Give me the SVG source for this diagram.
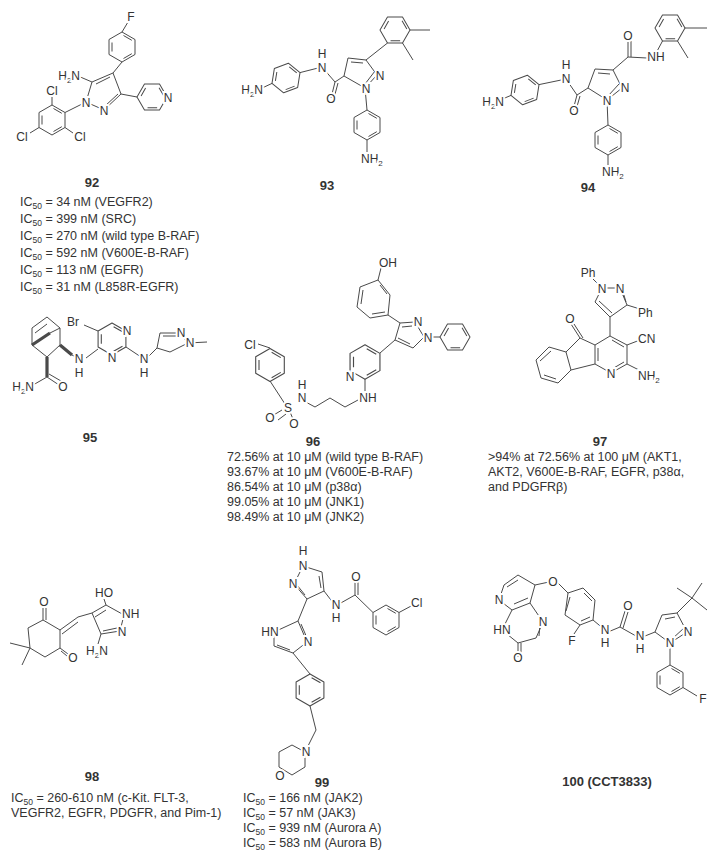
<svg xmlns="http://www.w3.org/2000/svg" xmlns:xlink="http://www.w3.org/1999/xlink" width="727" height="860" viewBox="0 0 727 860">
<defs>
<style>
.b{stroke:#4a4a4a;stroke-width:1;fill:none;stroke-linejoin:round}
.w{stroke:#4a4a4a;stroke-width:3.2;fill:none}
text{font-family:"Liberation Sans",Arial,sans-serif;fill:#333}
.at{font-size:12px;text-anchor:middle;stroke:#fff;stroke-width:4;paint-order:stroke}
.ae{font-size:12px;text-anchor:end;stroke:#fff;stroke-width:4;paint-order:stroke}
.as{font-size:12px;text-anchor:start;stroke:#fff;stroke-width:4;paint-order:stroke}
.lb{font-size:13px;font-weight:bold;text-anchor:middle}
.tx{font-size:12.5px}
</style>
<path id="ar" d="M0,-15L13,-7.5L13,7.5L0,15L-13,7.5L-13,-7.5Z M1.5,-11.5L9.8,-6.7 M9.8,6.7L1.5,11.5 M-10,4.5L-10,-4.5"/>
</defs>
<rect width="727" height="860" fill="#fff"/>

<g id="c92">
<use href="#ar" class="b" transform="translate(122,47)"/>
<path class="b" d="M122,32L128,22 M122,62L113,73 M113,73L121,94L104,110L86,102L92,82Z M110,77L96,84 M118,94L105,106 M92,82L78,76 M121,94L137,97 M86,102L65,112.5 M52,105L52,97 M65,127.5L73,133 M39,127.5L30,133"/>
<use href="#ar" class="b" transform="translate(152,97) rotate(30)"/>
<use href="#ar" class="b" transform="translate(52,120)"/>
<text class="at" x="131" y="21">F</text>
<text class="ae" x="80" y="80">H<tspan font-size="8" dy="3">2</tspan><tspan dy="-3">N</tspan></text>
<text class="at" x="104" y="115">N</text>
<text class="at" x="86" y="107">N</text>
<text class="at" x="168" y="102">N</text>
<text class="at" x="52" y="95">Cl</text>
<text class="at" x="80" y="141">Cl</text>
<text class="at" x="22" y="141">Cl</text>
<text class="lb" x="92" y="187">92</text>
<text class="tx" x="20" y="206">IC<tspan font-size="8.5" dy="3">50</tspan><tspan dy="-3"> = 34 nM (VEGFR2)</tspan></text>
<text class="tx" x="20" y="223">IC<tspan font-size="8.5" dy="3">50</tspan><tspan dy="-3"> = 399 nM (SRC)</tspan></text>
<text class="tx" x="20" y="240">IC<tspan font-size="8.5" dy="3">50</tspan><tspan dy="-3"> = 270 nM (wild type B-RAF)</tspan></text>
<text class="tx" x="20" y="257">IC<tspan font-size="8.5" dy="3">50</tspan><tspan dy="-3"> = 592 nM (V600E-B-RAF)</tspan></text>
<text class="tx" x="20" y="274">IC<tspan font-size="8.5" dy="3">50</tspan><tspan dy="-3"> = 113 nM (EGFR)</tspan></text>
<text class="tx" x="20" y="291">IC<tspan font-size="8.5" dy="3">50</tspan><tspan dy="-3"> = 31 nM (L858R-EGFR)</tspan></text>
</g>

<g id="c93">
<use href="#ar" class="b" transform="translate(286,78) rotate(9)"/>
<use href="#ar" class="b" transform="translate(367,125)"/>
<use href="#ar" class="b" transform="translate(395,30) rotate(30)"/>
<path class="b" d="M272,83.4L260,89 M300,72.6L322,67 M322,67L335,82 M335,82L331,98 M338,83L334,98 M335,82L344,76 M344,76L348,58L366,60L377,75L365,88Z M351,62L363,63 M375,71L365,84 M365,88L367,110 M367,140L367,152 M366,60L387.5,43 M402.5,43L413,60 M410,30L430,30"/>
<text class="ae" x="263" y="94">H<tspan font-size="8" dy="3">2</tspan><tspan dy="-3">N</tspan></text>
<text class="at" x="322" y="72">N</text>
<text class="at" x="322" y="58">H</text>
<text class="at" x="331" y="103">O</text>
<text class="at" x="380" y="80">N</text>
<text class="at" x="366" y="93">N</text>
<text class="as" x="361" y="163">NH<tspan font-size="8" dy="3">2</tspan></text>
<text class="lb" x="327" y="190">93</text>
</g>

<g id="c94">
<use href="#ar" class="b" transform="translate(525,90) rotate(9)"/>
<use href="#ar" class="b" transform="translate(608,140)"/>
<use href="#ar" class="b" transform="translate(670,28) rotate(30)"/>
<path class="b" d="M511,95.4L500,100 M539,84.6L566,79 M566,79L577,95 M577,95L573,110 M580,96L576,110 M577,95L588,88 M588,88L595,69L613,70L622,88L607,100Z M598,73L610,74 M619,84L608,96 M607,100L608,125 M608,155L608,165 M613,70L628,57 M628,57L628,41 M631,57L631,41 M628,57L647,58 M655,55L662.5,41 M677.5,41L688,58 M685,28L707,28"/>
<text class="ae" x="504" y="106">H<tspan font-size="8" dy="3">2</tspan><tspan dy="-3">N</tspan></text>
<text class="at" x="566" y="83">N</text>
<text class="at" x="566" y="69">H</text>
<text class="at" x="574" y="115">O</text>
<text class="at" x="625" y="92">N</text>
<text class="at" x="607" y="105">N</text>
<text class="at" x="628" y="40">O</text>
<text class="at" x="656" y="61">NH</text>
<text class="as" x="602" y="176">NH<tspan font-size="8" dy="3">2</tspan></text>
<text class="lb" x="588" y="192">94</text>
</g>

<g id="c95">
<path class="b" d="M32,328L47,317L60,328L60,345L47,357L32,345Z M35,333L47,324 M50,333L60,328"/>
<path class="w" d="M32,345L50,333 M60,345L72,355 M47,357L47,377"/>
<use href="#ar" class="b" transform="translate(112,339) scale(1.07)"/>
<path class="b" d="M72,355L80,359 M98,349L86,358 M98,331L84,325 M126,347L141,357 M148,357L157,348 M157,348L160,333L180,333L188,343L170,352Z M163,336L177,336 M188,343L207,342 M47,377L33,385 M47,377L59,385 M49,374L61,381"/>
<text class="at" x="79" y="363">N</text>
<text class="at" x="79" y="377">H</text>
<text class="at" x="73" y="326">Br</text>
<text class="at" x="127" y="335">N</text>
<text class="at" x="112" y="362">N</text>
<text class="at" x="144" y="363">N</text>
<text class="at" x="144" y="377">H</text>
<text class="at" x="181" y="337">N</text>
<text class="at" x="190" y="347">N</text>
<text class="ae" x="34" y="391">H<tspan font-size="8" dy="3">2</tspan><tspan dy="-3">N</tspan></text>
<text class="at" x="63" y="391">O</text>
<text class="lb" x="90" y="442">95</text>
</g>

<g id="c96">
<use href="#ar" class="b" transform="translate(455,337) rotate(30)"/>
<use href="#ar" class="b" transform="translate(365,362) scale(1.15)"/>
<use href="#ar" class="b" transform="translate(270,365) scale(1.1)"/>
<path class="b" d="M378,280L390,295L388,315L370,318L357,307L360,287Z M380,285L387,294 M385,312L372,314 M361,304L363,290 M378,280L381,268 M388,315L400,323 M400,323L415,322L424,337L413,348L395,340Z M402,327L412,326 M410,344L398,338 M424,337L440,337 M395,340L380,353 M365,379L365,392 M358,400L345,407L330,398L315,407L302,400 M270,348L258,344 M270,381L285,404 M282,410L272,416 M286,414L278,420 M290,412L293,419"/>
<text class="at" x="388" y="267">OH</text>
<text class="at" x="418" y="326">N</text>
<text class="at" x="428" y="342">N</text>
<text class="at" x="350" y="381">N</text>
<text class="at" x="368" y="402">NH</text>
<text class="at" x="250" y="349">Cl</text>
<text class="at" x="288" y="412">S</text>
<text class="at" x="270" y="422">O</text>
<text class="at" x="294" y="428">O</text>
<text class="at" x="302" y="402">N</text>
<text class="at" x="302" y="389">H</text>
<text class="lb" x="313" y="446">96</text>
<text class="tx" x="227" y="461">72.56% at 10 μM (wild type B-RAF)</text>
<text class="tx" x="227" y="476">93.67% at 10 μM  (V600E-B-RAF)</text>
<text class="tx" x="227" y="491">86.54% at 10 μM  (p38α)</text>
<text class="tx" x="227" y="506">99.05% at 10 μM  (JNK1)</text>
<text class="tx" x="227" y="521">98.49% at 10 μM  (JNK2)</text>
</g>

<g id="c97">
<path class="b" d="M610,317L595,302L602,288L620,288L627,305Z M612,313L599,301 M623,292L626,302 M602,288L592,278 M627,305L640,309 M610,317L610,336 M610,336L627,345L627,364L611,373L595,364L595,345Z M612,340L624,347 M624,362L612,369 M598,361L598,348 M627,345L640,340 M627,364L641,371 M595,345L580,338L566,352L571,370L595,364 M580,338L571,324 M583,338L574,324 M566,352L549,347L536,360L541,378L558,383L571,370 M551,351L540,361 M544,375L556,379"/>
<text class="at" x="588" y="277">Ph</text>
<text class="at" x="602" y="293">N</text>
<text class="at" x="620" y="293">N</text>
<text class="as" x="638" y="317">Ph</text>
<text class="as" x="638" y="343">CN</text>
<text class="at" x="611" y="378">N</text>
<text class="as" x="638" y="380">NH<tspan font-size="8" dy="3">2</tspan></text>
<text class="at" x="570" y="323">O</text>
<text class="lb" x="600" y="446">97</text>
<text class="tx" x="488" y="461">&gt;94% at 72.56% at 100 μM (AKT1,</text>
<text class="tx" x="488" y="476">AKT2, V600E-B-RAF, EGFR, p38α,</text>
<text class="tx" x="488" y="491">and PDGFRβ)</text>
</g>

<g id="c98">
<path class="b" d="M43,620L60,630L60,648L45,657L30,648L28,628Z M43,620L43,608 M46,620L46,608 M60,648L68,654 M61,651L67,656 M30,648L10,643 M30,648L22,665 M60,630L78,617 M62,634L78,622 M78,617L92,613 M92,613L106,605L124,615L120,631L101,634Z M95,617L106,610 M117,628L103,631 M106,605L104,599 M101,634L98,644"/>
<text class="at" x="104" y="597">HO</text>
<text class="at" x="44" y="606">O</text>
<text class="at" x="73" y="662">O</text>
<text class="as" x="122" y="618">NH</text>
<text class="at" x="122" y="636">N</text>
<text class="at" x="97" y="655">H<tspan font-size="8" dy="3">2</tspan><tspan dy="-3">N</tspan></text>
<text class="lb" x="92" y="781">98</text>
<text class="tx" x="11" y="802">IC<tspan font-size="8.5" dy="3">50</tspan><tspan dy="-3"> = 260-610 nM (c-Kit. FLT-3,</tspan></text>
<text class="tx" x="11" y="817">VEGFR2, EGFR, PDGFR, and Pim-1)</text>
</g>

<g id="c99">
<path class="b" d="M303,566L322,572L324,591L307,599L294,584Z M319,576L321,588 M305,595L297,585 M324,591L334,604 M339,604L355,595 M355,595L355,582 M358,595L358,582 M355,595L373,612.5 M307,599L298,621 M298,621L307,642L293,653L274,646L274,632Z M301,624L307,638 M290,650L277,645 M293,653L310,674 M310,706L316,730 M316,730L305,752"/>
<use href="#ar" class="b" transform="translate(386,620)"/>
<use href="#ar" class="b" transform="translate(310,690) scale(1.07)"/>
<path class="b" d="M305,752L305,767L292,775L279,767L279,752L292,745Z M399,612.5L413,605"/>
<text class="at" x="303" y="555">H</text>
<text class="at" x="303" y="570">N</text>
<text class="at" x="293" y="588">N</text>
<text class="at" x="336" y="609">N</text>
<text class="at" x="336" y="622">H</text>
<text class="at" x="356" y="581">O</text>
<text class="as" x="411" y="607">Cl</text>
<text class="at" x="270" y="636">HN</text>
<text class="at" x="308" y="646">N</text>
<text class="at" x="306" y="756">N</text>
<text class="at" x="280" y="780">O</text>
<text class="lb" x="322" y="787">99</text>
<text class="tx" x="243" y="802">IC<tspan font-size="8.5" dy="3">50</tspan><tspan dy="-3"> = 166 nM (JAK2)</tspan></text>
<text class="tx" x="243" y="817">IC<tspan font-size="8.5" dy="3">50</tspan><tspan dy="-3"> = 57 nM (JAK3)</tspan></text>
<text class="tx" x="243" y="832">IC<tspan font-size="8.5" dy="3">50</tspan><tspan dy="-3"> = 939 nM (Aurora A)</tspan></text>
<text class="tx" x="243" y="847">IC<tspan font-size="8.5" dy="3">50</tspan><tspan dy="-3"> = 583 nM (Aurora B)</tspan></text>
</g>

<g id="c100">
<path class="b" d="M499,600L504,585L518,575L535,585L530,603L512,610Z M507,587L518,580 M528,598L514,604 M530,603L543,622L536,638L518,643L502,630L512,610 M539,636L540,624 M518,643L518,657 M521,643L521,657 M535,585L549,582 M558,583L568,593 M568,593L583,588L595,600L593,620L580,625L565,615Z M584,593L592,601 M590,617L581,621 M566,611L570,597 M580,625L572,637 M593,620L605,630 M608,632L620,627 M620,627L625,611 M623,628L628,612 M620,627L636,636 M645,636L655,632 M655,632L662,615L677,613L687,632L670,643Z M665,619L675,617 M684,628L672,639 M677,613L692,598 M692,598L677,588 M692,598L702,583 M692,598L707,610 M670,648L670,665"/>
<use href="#ar" class="b" transform="translate(670,680)"/>
<path class="b" d="M683,687.5L697,696"/>
<text class="at" x="499" y="604">N</text>
<text class="at" x="543" y="626">N</text>
<text class="at" x="502" y="634">HN</text>
<text class="at" x="518" y="662">O</text>
<text class="at" x="553" y="586">O</text>
<text class="at" x="572" y="645">F</text>
<text class="at" x="605" y="634">N</text>
<text class="at" x="605" y="647">H</text>
<text class="at" x="628" y="610">O</text>
<text class="at" x="640" y="640">N</text>
<text class="at" x="640" y="653">H</text>
<text class="at" x="688" y="636">N</text>
<text class="at" x="670" y="647">N</text>
<text class="at" x="703" y="703">F</text>
<text class="lb" x="607" y="786">100 (CCT3833)</text>
</g>
</svg>
